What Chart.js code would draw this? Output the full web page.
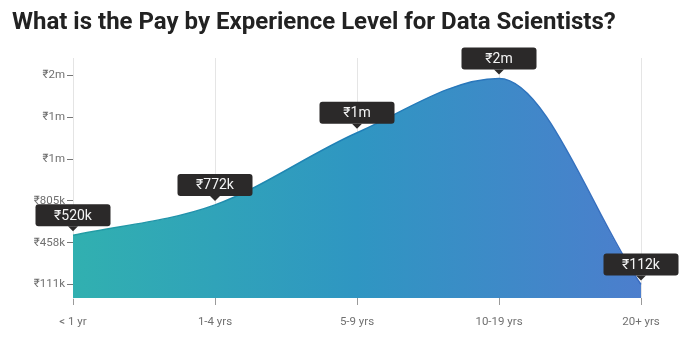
<!DOCTYPE html>
<html>
<head>
<meta charset="utf-8">
<script src="https://cdn.jsdelivr.net/npm/chart.js@4"></script>
<style>
    html, body { margin: 0; padding: 0; background: #ffffff; }
    #wrap { position: relative; width: 696px; height: 345px; }
    h1 {
        position: absolute; left: 12px; top: 7px; margin: 0;
        font: bold 24px Roboto, sans-serif; color: #222222; white-space: nowrap;
    }
    #payChart { position: absolute; left: 0; top: 0; }
</style>
</head>
<body>
<div id="wrap">
    <canvas id="payChart" width="696" height="345"></canvas>
    <h1>What is the Pay by Experience Level for Data Scientists?</h1>
</div>
<script>
var labels = ["< 1 yr", "1-4 yrs", "5-9 yrs", "10-19 yrs", "20+ yrs"];
var pay = [520000, 772000, 1370000, 1820000, 112000];
var payLabels = ["₹520k", "₹772k", "₹1m", "₹2m", "₹112k"];
var tickValues = [111000, 458000, 805000, 1152000, 1499000, 1846000];
var tickLabels = ["₹111k", "₹458k", "₹805k", "₹1m", "₹1m", "₹2m"];

var payChart = {};

// horizontal teal -> blue gradient across the chart area
payChart.gradient = function(context, stops) {
    const area = context.chart.chartArea;
    if (!area) return stops[0];
    const g = context.chart.ctx.createLinearGradient(area.left, 0, area.right, 0);
    g.addColorStop(0, stops[0]);
    g.addColorStop(0.5, stops[1]);
    g.addColorStop(1, stops[2]);
    return g;
};

// the always-visible dark label boxes above each point
payChart.labelPlugin = {
    id: "payLabels",
    afterDatasetsDraw: function(chart) {
        const ctx = chart.ctx;
        const points = chart.getDatasetMeta(0).data;
        ctx.save();
        ctx.font = "14px Roboto, sans-serif";
        ctx.textAlign = "center";
        ctx.textBaseline = "middle";
        for (let i=0; i<points.length; i++) {
            const x = points[i].x;
            const y = points[i].y;
            const w = 75, h = 22;
            const bottom = y - 9;
            ctx.fillStyle = "#2b2929";
            ctx.beginPath();
            ctx.roundRect(x - w / 2, bottom - h, w, h, 3);
            ctx.fill();
            ctx.beginPath();
            ctx.moveTo(x - 5, bottom);
            ctx.lineTo(x + 5, bottom);
            ctx.lineTo(x, bottom + 5);
            ctx.closePath();
            ctx.fill();
            ctx.fillStyle = "#f4f4f4";
            ctx.fillText(payLabels[i], x, bottom - h / 2 + 1);
        }
        ctx.restore();
    },
};

payChart.CONFIG = {
    type: "line",
    data: {
        labels: labels,
        datasets: [
            {
                data: pay,
                fill: "start",
                cubicInterpolationMode: "monotone",
                pointRadius: 0,
                borderWidth: 1.5,
                borderColor: (c) => payChart.gradient(c, ["#239ea3", "#1f7fb8", "#3a6cc0"]),
                backgroundColor: (c) => payChart.gradient(c, ["#31b0b0", "#2f96c2", "#4c7ecd"]),
            },
        ],
    },
    options: {
        responsive: false,
        animation: false,
        layout: {
            padding: { top: 58, right: 55, left: 0, bottom: 0 },
        },
        plugins: {
            legend: { display: false },
            tooltip: { enabled: false },
        },
        scales: {
            x: {
                z: 1,
                offset: false,
                grid: {
                    color: "rgba(0, 0, 0, 0.1)",
                    tickColor: "#9a9a9a",
                    tickLength: 7,
                },
                border: { display: false },
                ticks: {
                    padding: 10,
                    color: "#707070",
                    font: { family: "Roboto", size: 11.5 },
                    maxRotation: 0,
                },
                afterFit: function(axis) { axis.height = 47; },
            },
            y: {
                min: 0,
                max: 1990000,
                grid: {
                    drawOnChartArea: false,
                    tickColor: "#777777",
                    tickLength: 6,
                },
                border: { color: "#e4e4e4" },
                ticks: {
                    padding: 2,
                    color: "#707070",
                    font: { family: "Roboto", size: 11.5 },
                    callback: function(value) {
                        const i = tickValues.indexOf(value);
                        return i >= 0 ? tickLabels[i] : "";
                    },
                },
                afterBuildTicks: function(axis) {
                    axis.ticks = tickValues.map((v) => ({ value: v }));
                },
                afterFit: function(axis) { axis.width = 73; },
            },
        },
    },
    plugins: [payChart.labelPlugin],
};

payChart.element = document.getElementById("payChart");
payChart.chart = new Chart(payChart.element, payChart.CONFIG);
</script>
</body>
</html>
